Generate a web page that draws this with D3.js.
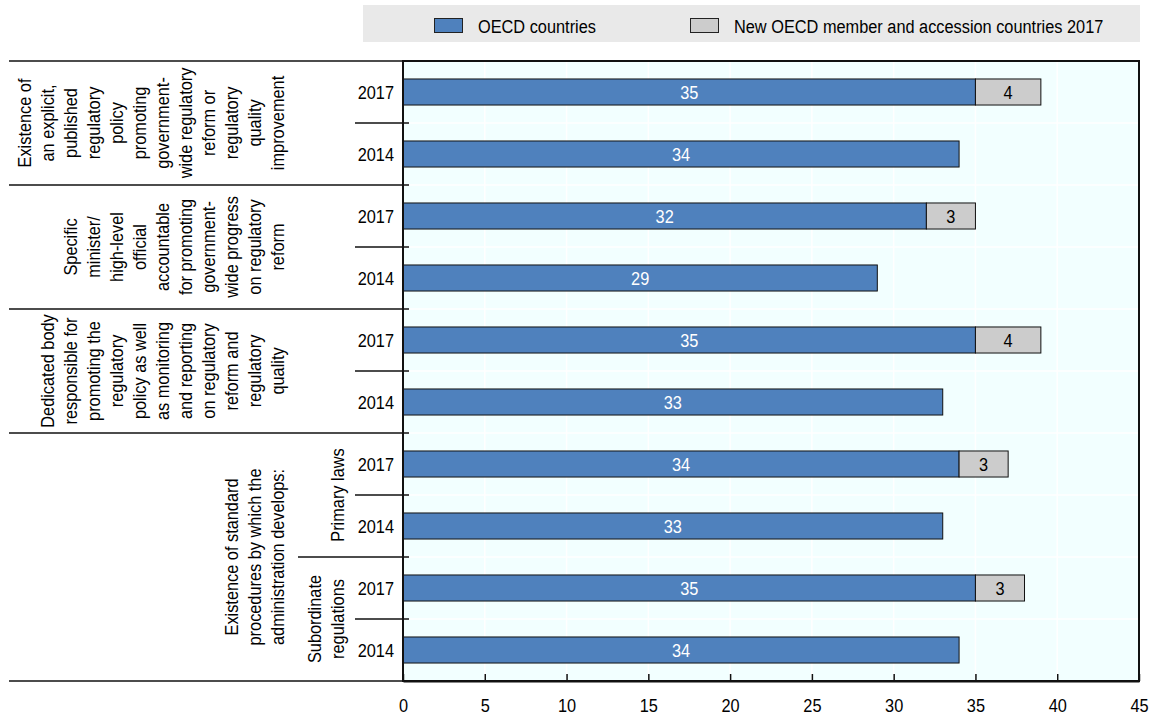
<!DOCTYPE html>
<html>
<head>
<meta charset="utf-8">
<script src="https://cdn.jsdelivr.net/npm/d3@7"></script>
<style>
  body { margin: 0; background: #fff; }
  svg text { font-family: "Liberation Sans", Arial, sans-serif; font-size: 19px; fill: #000; }
</style>
</head>
<body>
<div id="chart"></div>
<script>
// Data

// category labels (one line per entry, as in the original)
var groupLabels = [
    ["Existence of", "an explicit,", "published", "regulatory", "policy", "promoting", "government-", "wide regulatory", "reform or", "regulatory", "quality", "improvement"],
    ["Specific", "minister/", "high-level", "official", "accountable", "for promoting", "government-", "wide progress", "on regulatory", "reform"],
    ["Dedicated body", "responsible for", "promoting the", "regulatory", "policy as well", "as monitoring", "and reporting", "on regulatory", "reform and", "regulatory", "quality"],
    ["Existence of standard", "procedures by which the", "administration develops:"]
];
var subLabels = [
    ["Primary laws"],
    ["Subordinate", "regulations"]
];

// one entry per bar
var rowGroup = [0, 0, 1, 1, 2, 2, 3, 3, 3, 3];
var rowSub   = [null, null, null, null, null, null, 0, 0, 1, 1];
var years    = ["2017", "2014", "2017", "2014", "2017", "2014", "2017", "2014", "2017", "2014"];
var oecd       = [35, 34, 32, 29, 35, 33, 34, 33, 35, 34];
var newMembers = [4, null, 3, null, 4, null, 3, null, 3, null];

var xTicks = [0, 5, 10, 15, 20, 25, 30, 35, 40, 45];
var seriesNames = ["OECD countries", "New OECD member and accession countries 2017"];

// Setup
var width = 1153;
var height = 718;
var blue = "#4f81bd";
var grey = "#cccccc";
var squeeze = 0.86; // narrow font look

var svg = d3
    .select("#chart")
    .append("svg")
    .attr("width", width)
    .attr("height", height);

// text drawn with a horizontal squeeze
function nText(parent, tx, ty, str, anchor) {
    return parent.append("text")
        .attr("transform", "translate(" + tx + "," + ty + ") scale(" + squeeze + ",1)")
        .attr("text-anchor", anchor || "start")
        .text(str);
}

var rows = d3.range(oecd.length);

var x = d3.scaleLinear().domain([0, 45]).range([403, 1139]);
var y = d3.scaleBand().domain(rows).range([61, 681]).paddingInner(0.58).paddingOuter(0.29);

var step = y.step();
function rowTop(i) { return y(i) - step * 0.29; }
function rowBottom(i) { return rowTop(i) + step; }

// Legend
svg.append("rect")
    .attr("x", 363).attr("y", 5)
    .attr("width", 777).attr("height", 37)
    .attr("fill", "#e9e9e9");

var legendX = [434, 690];
[blue, grey].forEach(function (c, i) {
    svg.append("rect")
        .attr("x", legendX[i] + 0.5).attr("y", 18.5)
        .attr("width", 28).attr("height", 14)
        .attr("fill", c)
        .attr("stroke", "#222")
        .attr("stroke-width", 1);
    nText(svg, legendX[i] + 44, 33, seriesNames[i]);
});

// Plot background
svg.append("rect")
    .attr("x", x(0)).attr("y", 61)
    .attr("width", x(45) - x(0)).attr("height", 620)
    .attr("fill", "#f2ffff");

// white gridlines
svg.append("g")
    .selectAll("line")
    .data(xTicks.slice(1, -1))
    .enter()
    .append("line")
    .attr("x1", function (d) { return x(d); })
    .attr("x2", function (d) { return x(d); })
    .attr("y1", 61).attr("y2", 681)
    .attr("stroke", "#fff")
    .attr("stroke-width", 1.5);

svg.append("g")
    .selectAll("line")
    .data(rows.slice(1))
    .enter()
    .append("line")
    .attr("x1", x(0)).attr("x2", x(45))
    .attr("y1", function (d) { return rowTop(d); })
    .attr("y2", function (d) { return rowTop(d); })
    .attr("stroke", "#fff")
    .attr("stroke-width", 1.5);

// Bars
var bars = svg.append("g");

bars.selectAll(".oecd")
    .data(rows)
    .enter()
    .append("rect")
    .attr("class", "oecd")
    .attr("x", x(0))
    .attr("y", function (i) { return y(i); })
    .attr("width", function (i) { return x(oecd[i]) - x(0); })
    .attr("height", y.bandwidth())
    .attr("fill", blue)
    .attr("stroke", "#111")
    .attr("stroke-width", 1);

bars.selectAll(".newm")
    .data(rows.filter(function (i) { return newMembers[i] != null; }))
    .enter()
    .append("rect")
    .attr("class", "newm")
    .attr("x", function (i) { return x(oecd[i]); })
    .attr("y", function (i) { return y(i); })
    .attr("width", function (i) { return x(oecd[i] + newMembers[i]) - x(oecd[i]); })
    .attr("height", y.bandwidth())
    .attr("fill", grey)
    .attr("stroke", "#111")
    .attr("stroke-width", 1);

rows.forEach(function (i) {
    var ty = y(i) + y.bandwidth() / 2 + 7;
    nText(bars, x(oecd[i] / 2), ty, oecd[i], "middle").style("fill", "#fff");
    if (newMembers[i] != null) {
        nText(bars, x(oecd[i] + newMembers[i] / 2), ty, newMembers[i], "middle");
    }
});

// Frame
svg.append("rect")
    .attr("x", x(0)).attr("y", 61)
    .attr("width", x(45) - x(0)).attr("height", 620)
    .attr("fill", "none")
    .attr("stroke", "#111")
    .attr("stroke-width", 2);

// x axis
var xAxis = d3.axisBottom(x)
    .tickValues(xTicks)
    .tickSizeInner(-7)
    .tickSizeOuter(0)
    .tickPadding(0);

var gx = svg.append("g")
    .attr("transform", "translate(0,681)")
    .call(xAxis);
gx.select(".domain").attr("stroke", "#111").attr("stroke-width", 2);
gx.selectAll(".tick line").attr("stroke", "#111").attr("stroke-width", 1.5);
gx.selectAll(".tick text")
    .attr("y", 0)
    .attr("dy", null)
    .attr("transform", "translate(0,31) scale(" + squeeze + ",1)")
    .style("font-family", "\"Liberation Sans\", Arial, sans-serif")
    .style("font-size", "19px")
    .style("fill", "#000");

// Left label area
var lines = svg.append("g").attr("stroke", "#111").attr("stroke-width", 1.5);

// top and bottom rules
lines.append("line").attr("x1", 9).attr("x2", x(0)).attr("y1", 61).attr("y2", 61);
lines.append("line").attr("x1", 9).attr("x2", x(0)).attr("y1", 681).attr("y2", 681);

// separators between rows
rows.slice(1).forEach(function (i) {
    var yy = rowTop(i);
    var x1 = 355;
    if (rowGroup[i] !== rowGroup[i - 1]) x1 = 9;
    else if (rowSub[i] !== rowSub[i - 1]) x1 = 298;
    lines.append("line")
        .attr("x1", x1).attr("x2", x(0) + 6)
        .attr("y1", yy).attr("y2", yy);
});

// year labels
var yearG = svg.append("g");
rows.forEach(function (i) {
    nText(yearG, 394, y(i) + y.bandwidth() / 2 + 7, years[i], "end");
});

// rotated multi-line label, last line anchored at baseline x
function rotLabel(cx, cy, textLines) {
    var n = textLines.length;
    var t = svg.append("text")
        .attr("transform", "translate(" + cx + "," + cy + ") rotate(-90) scale(" + squeeze + ",1)")
        .attr("text-anchor", "middle");
    textLines.forEach(function (s, k) {
        t.append("tspan")
            .attr("x", 0)
            .attr("y", (k - (n - 1)) * 23)
            .text(s);
    });
}

groupLabels.forEach(function (lbl, g) {
    var idx = rows.filter(function (i) { return rowGroup[i] === g; });
    var top = rowTop(idx[0]);
    var bot = rowBottom(idx[idx.length - 1]);
    rotLabel(284, (top + bot) / 2, lbl);
});

subLabels.forEach(function (lbl, s) {
    var idx = rows.filter(function (i) { return rowSub[i] === s; });
    var top = rowTop(idx[0]);
    var bot = rowBottom(idx[idx.length - 1]);
    rotLabel(344, (top + bot) / 2, lbl);
});
</script>
</body>
</html>
